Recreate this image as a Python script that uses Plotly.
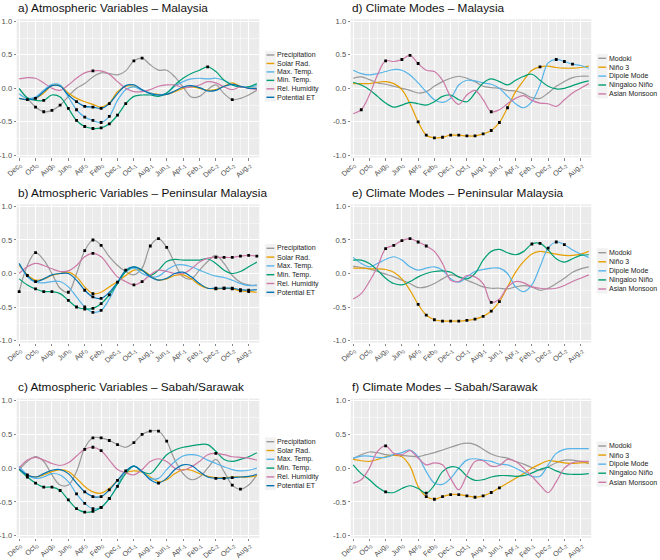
import plotly.graph_objects as go

# ---------------- data ----------------
lags = list(range(30))  # Dec0 (0) back to Jul-2 (29)
tick_pos = list(range(0, 29, 2))
tick_months = ["Dec", "Oct", "Aug", "Jun", "Apr", "Feb", "Dec", "Oct", "Aug", "Jun", "Apr", "Feb", "Dec", "Oct", "Aug"]
tick_years = ["0"] * 6 + ["-1"] * 6 + ["-2"] * 3
y_ticks = [-1.0, -0.5, 0.0, 0.5, 1.0]
y_tick_labels = ["-1.0", "-0.5", "0.0", "0.5", "1.0"]

atm_names = ["Precipitation", "Solar Rad.", "Max. Temp.", "Min. Temp.", "Rel. Humidity", "Potential ET"]
mode_names = ["Modoki", "Niño 3", "Dipole Mode", "Ningaloo Niño", "Asian Monsoon"]

# a) Malaysia
precip_a = [-0.01, -0.15, -0.28, -0.35, -0.33, -0.25, -0.12, 0.0, 0.07, 0.17, 0.23, 0.22, 0.2, 0.26, 0.41, 0.45, 0.35, 0.27, 0.27, 0.17, 0.02, -0.13, -0.12, -0.02, 0.05, -0.08, -0.17, -0.15, -0.1, -0.03]
solar_a = [-0.15, -0.17, -0.15, -0.07, 0.04, 0.04, -0.07, -0.15, -0.2, -0.24, -0.28, -0.22, -0.05, 0.03, 0.03, -0.03, -0.07, -0.09, -0.09, -0.05, 0.0, 0.02, 0.0, -0.03, -0.02, 0.03, 0.08, 0.03, 0.0, 0.0]
maxT_a = [-0.08, -0.15, -0.13, -0.03, 0.06, 0.05, -0.13, -0.32, -0.43, -0.48, -0.51, -0.42, -0.18, -0.02, 0.02, -0.03, -0.07, -0.1, -0.07, 0.03, 0.1, 0.14, 0.15, 0.14, 0.15, 0.12, 0.05, 0.02, 0.02, 0.04]
minT_a = [0.0, -0.14, -0.18, -0.18, -0.1, -0.13, -0.3, -0.48, -0.57, -0.6, -0.59, -0.53, -0.4, -0.23, -0.12, -0.1, -0.1, -0.12, -0.07, 0.05, 0.15, 0.22, 0.27, 0.32, 0.25, 0.12, 0.05, 0.02, 0.02, 0.07]
relH_a = [0.14, 0.16, 0.15, 0.08, 0.0, -0.03, 0.05, 0.15, 0.23, 0.26, 0.26, 0.21, 0.1, 0.0, -0.05, -0.05, -0.02, 0.03, 0.05, 0.05, 0.01, 0.02, 0.05, 0.1, 0.08, 0.02, -0.02, 0.02, 0.0, -0.02]
et_a = [-0.15, -0.17, -0.15, -0.05, 0.04, 0.03, -0.1, -0.2, -0.27, -0.28, -0.3, -0.23, -0.08, 0.04, 0.05, -0.02, -0.08, -0.1, -0.09, -0.04, 0.02, 0.04, 0.01, -0.04, -0.03, 0.03, 0.06, 0.03, 0.0, 0.0]
sig_a = [[2, 3, 4, 5, 14, 15, 26], [], [7, 8, 9, 10, 11], [3, 6, 7, 8, 9, 10, 11, 12, 13, 23], [9], [1, 2, 7, 8, 9, 10, 11]]

# b) Peninsular Malaysia
precip_b = [-0.27, 0.12, 0.31, 0.2, 0.0, -0.22, -0.28, 0.0, 0.34, 0.5, 0.42, 0.25, 0.12, 0.03, -0.02, 0.08, 0.41, 0.52, 0.39, 0.15, -0.05, -0.08, 0.05, 0.18, 0.27, 0.15, -0.03, -0.13, -0.17, -0.18]
solar_b = [0.12, -0.02, -0.1, -0.08, -0.03, 0.0, 0.02, -0.05, -0.2, -0.3, -0.28, -0.2, -0.12, -0.03, 0.05, 0.05, -0.03, -0.1, -0.08, -0.03, -0.02, -0.08, -0.17, -0.22, -0.23, -0.22, -0.23, -0.26, -0.27, -0.28]
maxT_b = [0.15, -0.05, -0.13, -0.14, -0.12, -0.12, -0.2, -0.35, -0.5, -0.58, -0.55, -0.38, -0.15, 0.02, 0.08, 0.0, -0.05, -0.04, 0.05, 0.12, 0.13, 0.1, 0.05, 0.0, -0.04, -0.06, -0.1, -0.15, -0.18, -0.17]
minT_b = [-0.08, -0.17, -0.23, -0.27, -0.27, -0.3, -0.4, -0.5, -0.53, -0.52, -0.45, -0.32, -0.15, 0.03, 0.1, 0.05, -0.03, 0.05, 0.18, 0.21, 0.2, 0.2, 0.2, 0.22, 0.15, 0.05, 0.0, 0.03, 0.1, 0.17]
relH_b = [0.0, 0.1, 0.15, 0.12, 0.07, 0.03, 0.04, 0.12, 0.25, 0.3, 0.25, 0.1, -0.05, -0.12, -0.17, -0.12, -0.02, 0.05, 0.03, 0.0, 0.0, 0.07, 0.17, 0.23, 0.24, 0.24, 0.24, 0.26, 0.27, 0.26]
et_b = [0.15, -0.03, -0.12, -0.08, -0.02, 0.0, 0.0, -0.1, -0.25, -0.35, -0.37, -0.28, -0.13, 0.05, 0.1, 0.05, -0.05, -0.1, -0.07, 0.0, 0.02, -0.05, -0.15, -0.22, -0.22, -0.22, -0.22, -0.24, -0.25, -0.24]
sig_b = [[0, 2, 6, 8, 9, 10, 16, 17, 18], [9, 24, 25, 26, 27, 28], [8, 9, 10], [2, 3, 4, 6, 7, 8, 9, 10, 11], [9, 14, 15, 24, 25, 26, 27, 28, 29], [1, 2, 8, 9, 10, 12, 13, 24, 25, 26, 27, 28]]

# c) Sabah/Sarawak
precip_c = [-0.02, 0.1, 0.17, 0.1, -0.1, -0.25, -0.25, -0.05, 0.3, 0.45, 0.45, 0.41, 0.35, 0.31, 0.38, 0.5, 0.55, 0.55, 0.4, 0.12, -0.08, -0.17, -0.13, 0.0, 0.13, -0.05, -0.25, -0.31, -0.25, -0.1]
solar_c = [-0.02, -0.1, -0.13, -0.1, -0.05, -0.02, -0.05, -0.15, -0.27, -0.35, -0.37, -0.3, -0.18, -0.07, -0.04, -0.06, -0.13, -0.2, -0.17, -0.08, -0.02, -0.03, -0.08, -0.12, -0.14, -0.14, -0.13, -0.13, -0.13, -0.11]
maxT_c = [0.03, -0.1, -0.15, -0.13, -0.08, -0.1, -0.2, -0.38, -0.52, -0.6, -0.58, -0.45, -0.25, -0.05, 0.03, -0.05, -0.15, -0.15, -0.02, 0.1, 0.18, 0.2, 0.18, 0.12, 0.07, 0.02, -0.02, -0.04, -0.03, 0.0]
minT_c = [-0.02, -0.13, -0.22, -0.28, -0.28, -0.33, -0.47, -0.6, -0.65, -0.64, -0.58, -0.45, -0.27, -0.08, 0.03, -0.05, -0.08, 0.05, 0.2, 0.27, 0.31, 0.33, 0.35, 0.35, 0.25, 0.13, 0.1, 0.13, 0.17, 0.23]
relH_c = [0.0, 0.12, 0.16, 0.12, 0.07, 0.04, 0.08, 0.18, 0.28, 0.31, 0.26, 0.12, -0.02, -0.07, -0.1, -0.02, 0.1, 0.14, 0.1, 0.0, -0.03, 0.02, 0.1, 0.2, 0.22, 0.2, 0.17, 0.16, 0.15, 0.12]
et_c = [-0.01, -0.1, -0.13, -0.08, -0.03, -0.02, -0.08, -0.22, -0.35, -0.42, -0.42, -0.32, -0.18, -0.04, 0.03, -0.05, -0.17, -0.22, -0.15, -0.02, 0.05, 0.04, -0.05, -0.13, -0.15, -0.15, -0.14, -0.13, -0.12, -0.09]
sig_c = [[9, 10, 11, 12, 14, 15, 16, 17, 18, 26, 27], [], [7, 8, 9, 10, 11], [1, 2, 3, 4, 5, 6, 7, 8, 9, 10, 11, 12], [8, 9, 10, 24], [1, 8, 9, 10, 11, 12, 13, 17, 24, 25, 26]]

# d) Climate modes - Malaysia
modoki_d = [0.15, 0.17, 0.13, 0.08, 0.06, 0.03, 0.0, -0.03, -0.07, -0.05, 0.03, 0.1, 0.15, 0.18, 0.15, 0.1, 0.03, 0.01, 0.0, -0.03, -0.04, -0.08, -0.14, -0.15, -0.07, 0.03, 0.1, 0.16, 0.18, 0.18]
nino3_d = [0.07, 0.07, 0.07, 0.09, 0.1, 0.07, -0.02, -0.23, -0.5, -0.7, -0.74, -0.73, -0.7, -0.7, -0.71, -0.71, -0.68, -0.63, -0.51, -0.29, -0.05, 0.12, 0.27, 0.32, 0.33, 0.31, 0.3, 0.3, 0.31, 0.33]
dipole_d = [0.27, 0.22, 0.2, 0.22, 0.25, 0.28, 0.27, 0.2, 0.08, -0.05, -0.17, -0.21, -0.15, 0.05, 0.12, 0.11, 0.08, 0.06, 0.0, -0.12, -0.23, -0.29, -0.2, 0.05, 0.38, 0.43, 0.4, 0.36, 0.34, 0.3]
ningaloo_d = [0.09, 0.05, -0.02, -0.12, -0.22, -0.28, -0.25, -0.21, -0.23, -0.25, -0.2, -0.12, -0.1, -0.17, -0.2, -0.07, 0.08, 0.14, 0.1, 0.05, 0.12, 0.18, 0.21, 0.12, 0.03, -0.01, 0.0, 0.04, 0.08, 0.11]
monsoon_d = [-0.38, -0.32, -0.1, 0.2, 0.41, 0.4, 0.43, 0.49, 0.37, 0.27, 0.25, 0.12, -0.12, -0.24, -0.1, -0.03, -0.17, -0.35, -0.32, -0.23, -0.15, -0.11, -0.18, -0.22, -0.23, -0.27, -0.17, -0.07, 0.0, 0.07]
sig_d = [[], [8, 9, 10, 11, 12, 13, 14, 15, 16, 17, 18, 19, 23], [25, 26, 27], [], [1, 4, 6, 7, 8, 17]]

# e) Climate modes - Peninsular Malaysia
modoki_e = [0.11, 0.09, 0.07, 0.03, -0.01, -0.05, -0.1, -0.15, -0.21, -0.2, -0.15, -0.08, -0.02, -0.05, -0.1, -0.15, -0.2, -0.22, -0.22, -0.23, -0.2, -0.18, -0.2, -0.25, -0.22, -0.15, -0.07, 0.02, 0.07, 0.1]
nino3_e = [0.08, 0.08, 0.07, 0.07, 0.06, 0.02, -0.08, -0.25, -0.46, -0.62, -0.69, -0.71, -0.71, -0.71, -0.7, -0.68, -0.64, -0.56, -0.42, -0.2, 0.02, 0.18, 0.29, 0.33, 0.31, 0.29, 0.27, 0.27, 0.29, 0.33]
dipole_e = [0.24, 0.15, 0.1, 0.15, 0.21, 0.25, 0.2, 0.1, 0.05, 0.08, 0.1, 0.05, -0.08, -0.13, -0.05, 0.03, 0.06, 0.08, 0.08, 0.0, -0.2, -0.27, -0.17, 0.1, 0.38, 0.47, 0.43, 0.35, 0.29, 0.24]
ningaloo_e = [0.2, 0.2, 0.15, 0.05, -0.07, -0.15, -0.17, -0.12, -0.05, 0.0, 0.03, 0.04, 0.02, -0.05, -0.08, 0.0, 0.2, 0.33, 0.36, 0.31, 0.28, 0.33, 0.44, 0.45, 0.35, 0.22, 0.17, 0.22, 0.27, 0.28]
monsoon_e = [-0.38, -0.3, -0.12, 0.1, 0.37, 0.42, 0.49, 0.52, 0.47, 0.41, 0.33, 0.15, -0.1, -0.12, -0.03, -0.05, -0.15, -0.43, -0.38, -0.2, -0.12, -0.14, -0.2, -0.22, -0.23, -0.22, -0.18, -0.12, -0.07, -0.02]
sig_e = [[], [8, 9, 10, 11, 12, 13, 14, 15, 16, 17, 18], [24, 25, 26], [22, 23], [4, 5, 6, 7, 8, 9, 17]]

# f) Climate modes - Sabah/Sarawak
modoki_f = [0.14, 0.2, 0.24, 0.23, 0.2, 0.19, 0.19, 0.18, 0.17, 0.2, 0.23, 0.27, 0.31, 0.35, 0.37, 0.35, 0.28, 0.21, 0.17, 0.15, 0.1, 0.06, 0.01, -0.03, 0.02, 0.08, 0.12, 0.12, 0.1, 0.07]
nino3_f = [0.13, 0.11, 0.1, 0.13, 0.17, 0.19, 0.17, 0.03, -0.27, -0.42, -0.46, -0.42, -0.39, -0.39, -0.41, -0.43, -0.41, -0.36, -0.29, -0.22, -0.15, -0.08, 0.0, 0.06, 0.11, 0.1, 0.08, 0.07, 0.08, 0.08]
dipole_f = [0.15, 0.18, 0.18, 0.16, 0.16, 0.2, 0.23, 0.27, 0.17, -0.05, -0.22, -0.24, -0.15, 0.0, 0.12, 0.14, 0.12, 0.1, 0.06, 0.05, 0.0, -0.06, -0.12, -0.12, 0.05, 0.22, 0.28, 0.29, 0.29, 0.29]
ningaloo_f = [0.05, -0.08, -0.17, -0.28, -0.35, -0.36, -0.3, -0.26, -0.3, -0.37, -0.25, -0.05, 0.02, 0.0, -0.12, -0.18, -0.17, -0.13, -0.11, -0.11, -0.12, -0.11, -0.07, -0.02, 0.01, -0.04, -0.08, -0.09, -0.09, -0.08]
monsoon_f = [-0.22, -0.17, 0.0, 0.25, 0.33, 0.22, 0.2, 0.26, 0.15, 0.05, 0.08, 0.05, -0.15, -0.32, -0.1, 0.1, 0.11, 0.03, 0.04, 0.13, 0.1, 0.0, -0.12, -0.25, -0.36, -0.2, 0.0, 0.08, 0.1, 0.1]
sig_f = [[], [9, 10, 11, 12, 13, 14, 15, 16, 17, 18], [], [4, 9], [4]]

# ---------------- styling ----------------
W, H = 660, 560
atm_colors = ["#999999", "#E69F00", "#56B4E9", "#009E73", "#CC79A7", "#0072B2"]
mode_colors = ["#999999", "#E69F00", "#56B4E9", "#009E73", "#CC79A7"]
FONT = "Liberation Sans, Arial, Helvetica, sans-serif"

def px(xp):
    return xp / W

def py(yp):
    return 1 - yp / H

left_x = (16.7, 259.3)
right_x = (350.7, 591.2)
rows_y = [(19.2, 157.4), (204.4, 342.6), (398.6, 537.8)]
title_y = [8.5, 193.3, 387.0]
legend_first = {1: 55.0, 2: 248.3, 3: 441.7, 4: 58.3, 5: 252.7, 6: 446.0}
legend_step = {1: 8.46, 2: 8.8, 3: 8.8, 4: 8.9, 5: 9.07, 6: 9.07}

panels = [
    ("a) Atmospheric Variables \u2013 Malaysia", 0, 0, atm_names, atm_colors,
     [precip_a, solar_a, maxT_a, minT_a, relH_a, et_a], sig_a),
    ("b) Atmospheric Variables \u2013 Peninsular Malaysia", 0, 1, atm_names, atm_colors,
     [precip_b, solar_b, maxT_b, minT_b, relH_b, et_b], sig_b),
    ("c) Atmospheric Variables \u2013 Sabah/Sarawak", 0, 2, atm_names, atm_colors,
     [precip_c, solar_c, maxT_c, minT_c, relH_c, et_c], sig_c),
    ("d) Climate Modes \u2013 Malaysia", 1, 0, mode_names, mode_colors,
     [modoki_d, nino3_d, dipole_d, ningaloo_d, monsoon_d], sig_d),
    ("e) Climate Modes \u2013 Peninsular Malaysia", 1, 1, mode_names, mode_colors,
     [modoki_e, nino3_e, dipole_e, ningaloo_e, monsoon_e], sig_e),
    ("f) Climate Modes \u2013 Sabah/Sarawak", 1, 2, mode_names, mode_colors,
     [modoki_f, nino3_f, dipole_f, ningaloo_f, monsoon_f], sig_f),
]

tick_text = [f"{m}<sub>{y}</sub>" for m, y in zip(tick_months, tick_years)]

fig = go.Figure()
shapes = []
annotations = []
layout_axes = {}

for k, (title, col, row, names, colors, series, sigs) in enumerate(panels, start=1):
    xs = "x" if k == 1 else f"x{k}"
    ys = "y" if k == 1 else f"y{k}"
    xdom = left_x if col == 0 else right_x
    ydom = rows_y[row]
    for name, color, vals, sig in zip(names, colors, series, sigs):
        fig.add_trace(go.Scatter(
            x=lags, y=vals, mode="lines", name=name,
            line=dict(color=color, width=1.2, shape="spline", smoothing=1.0),
            xaxis=xs, yaxis=ys, showlegend=False, hoverinfo="skip"))
    for name, vals, sig in zip(names, series, sigs):
        if sig:
            fig.add_trace(go.Scatter(
                x=[lags[i] for i in sig], y=[vals[i] for i in sig], mode="markers",
                marker=dict(color="black", size=2.8, symbol="square"),
                xaxis=xs, yaxis=ys, showlegend=False, hoverinfo="skip"))

    xa = "xaxis" if k == 1 else f"xaxis{k}"
    ya = "yaxis" if k == 1 else f"yaxis{k}"
    layout_axes[xa] = dict(
        domain=[px(xdom[0]), px(xdom[1])], anchor=ys, range=[-0.3, 29.3],
        automargin=False,
        tickmode="array", tickvals=tick_pos, ticktext=tick_text, tickangle=-45,
        tickfont=dict(size=7.3, color="#4D4D4D", family=FONT),
        ticklabelstandoff=-3,
        showgrid=True, gridcolor="white", gridwidth=1.0,
        minor=dict(tickmode="array", tickvals=list(range(1, 28, 2)), showgrid=True,
                   gridcolor="white", gridwidth=0.5),
        zeroline=False, showline=False, ticks="outside", ticklen=2.5,
        tickcolor="#333333", tickwidth=0.6, fixedrange=True)
    layout_axes[ya] = dict(
        domain=[py(ydom[1]), py(ydom[0])], anchor=xs, range=[-1.031, 1.031],
        automargin=False,
        tickmode="array", tickvals=y_ticks, ticktext=y_tick_labels,
        tickfont=dict(size=7.6, color="#4D4D4D", family=FONT),
        showgrid=True, gridcolor="white", gridwidth=1.0,
        minor=dict(tickmode="array", tickvals=[-0.75, -0.25, 0.25, 0.75], showgrid=True,
                   gridcolor="white", gridwidth=0.5),
        zeroline=False, showline=False, ticks="outside", ticklen=2.0,
        tickcolor="#333333", tickwidth=0.6, fixedrange=True)

    # title
    annotations.append(dict(
        text=title, xref="paper", yref="paper", x=px(xdom[0] - 1.0), y=py(title_y[row]),
        xanchor="left", yanchor="middle", showarrow=False,
        font=dict(size=11.8, color="#111111", family=FONT)))

    # manual legend
    if col == 0:
        kx0, kx1, tx = 266.5, 274.3, 275.2
    else:
        kx0, kx1, tx = 598.3, 606.1, 606.8
    y0 = legend_first[k]
    step = legend_step[k]
    n = len(names)
    shapes.append(dict(type="rect", xref="paper", yref="paper",
                       x0=px(kx0 - 1.6), x1=px(kx1 + 1.6),
                       y0=py(y0 + (n - 1) * step + step / 2), y1=py(y0 - step / 2),
                       fillcolor="#F2F2F2", line=dict(width=0), layer="below"))
    for i, (name, color) in enumerate(zip(names, colors)):
        yy = y0 + i * step
        shapes.append(dict(type="line", xref="paper", yref="paper",
                           x0=px(kx0), x1=px(kx1), y0=py(yy), y1=py(yy),
                           line=dict(color=color, width=1.4)))
        annotations.append(dict(
            text=name, xref="paper", yref="paper", x=px(tx), y=py(yy),
            xanchor="left", yanchor="middle", showarrow=False,
            font=dict(size=7, color="#1A1A1A", family=FONT)))

fig.update_layout(
    width=W, height=H, margin=dict(l=0, r=0, t=0, b=0, autoexpand=False),
    paper_bgcolor="white", plot_bgcolor="#EBEBEB",
    font=dict(family=FONT, color="#4D4D4D"),
    showlegend=False, shapes=shapes, annotations=annotations,
    **layout_axes)

fig.write_html(
    "out.html",
    config={"displayModeBar": False, "staticPlot": True},
    post_script="document.body.style.margin='0';document.body.style.padding='0';"
                "document.documentElement.style.margin='0';document.body.style.overflow='hidden';")
